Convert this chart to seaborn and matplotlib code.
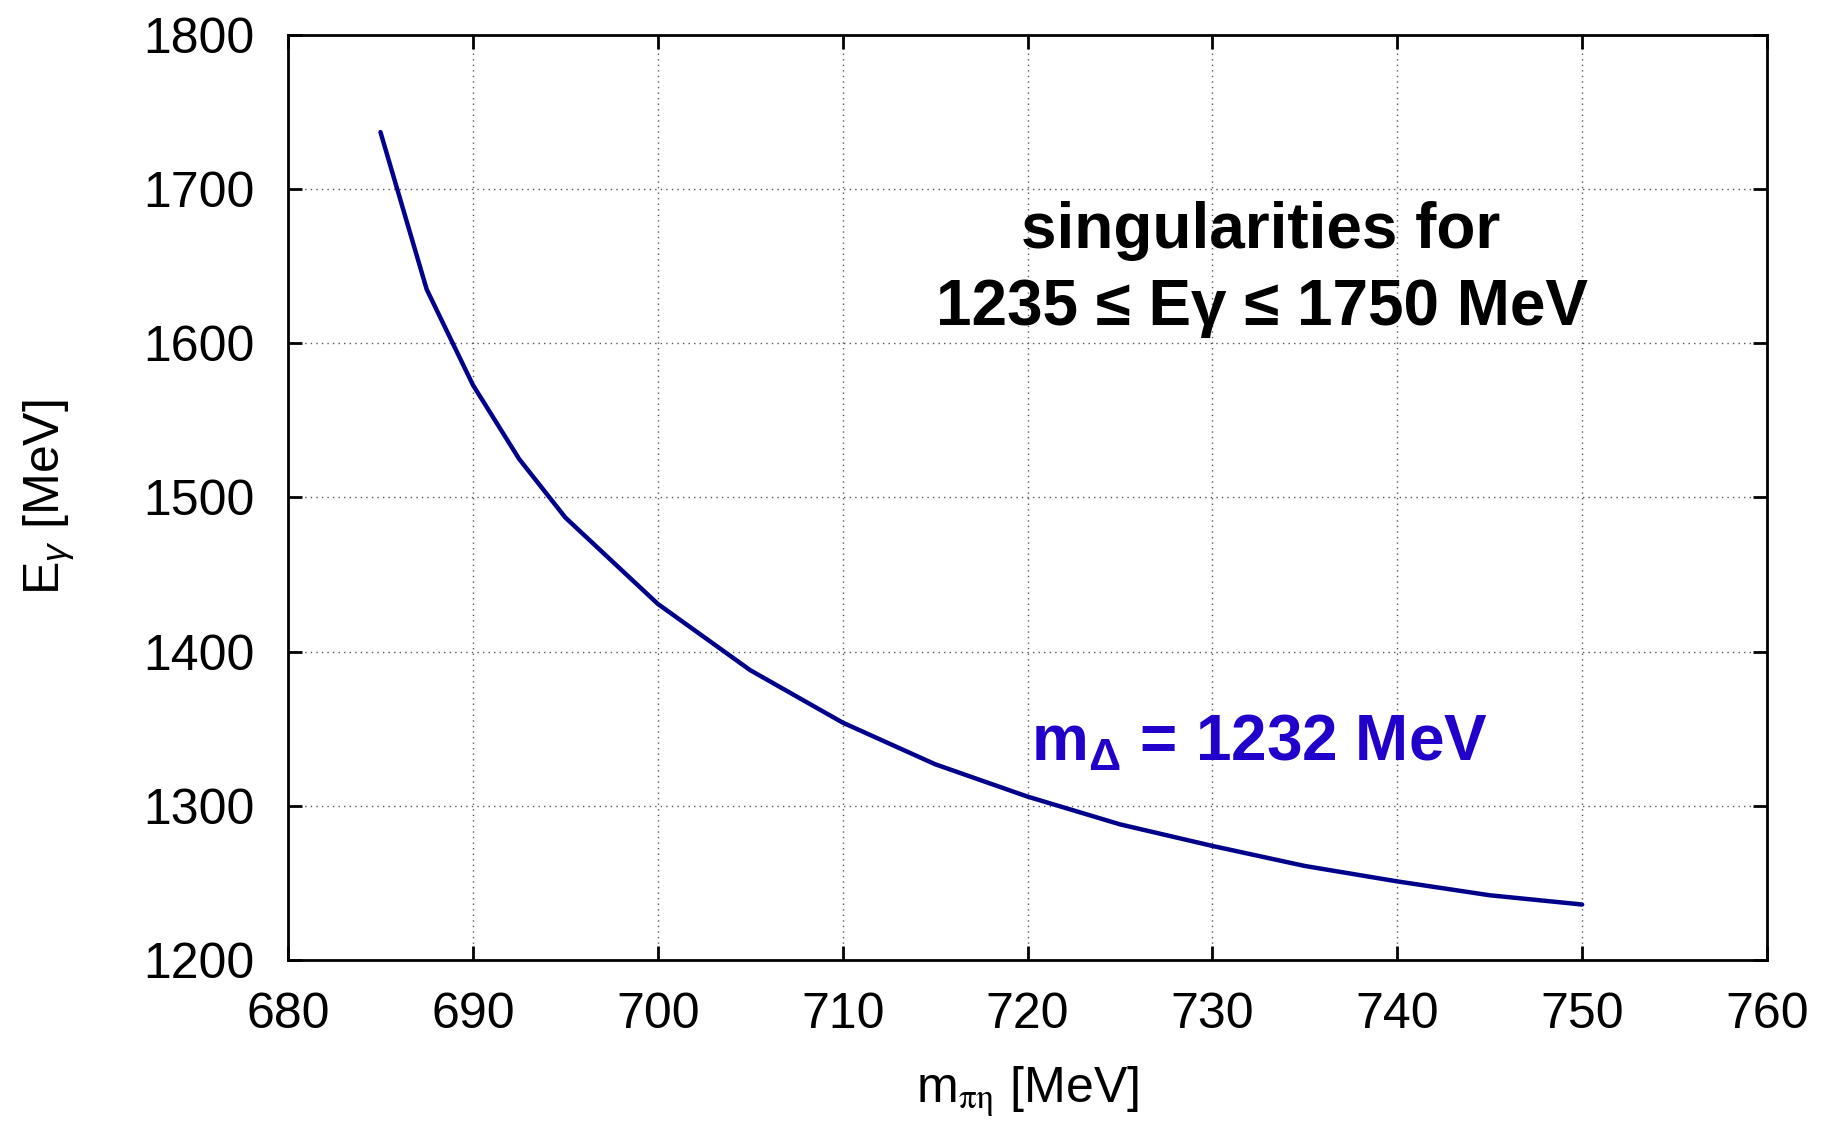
import matplotlib
matplotlib.use("Agg")
import matplotlib.pyplot as plt
import seaborn as sns
import pandas as pd

# singularity curve
m_pieta = [685, 687.5, 690, 692.5, 695, 700, 705, 710, 715, 720, 725, 730, 735, 740, 745, 750]
e_gamma = [1737, 1635, 1573, 1525, 1487, 1431, 1388, 1354, 1327, 1306, 1288, 1274, 1261, 1251, 1242, 1236]

x_ticks = [680, 690, 700, 710, 720, 730, 740, 750, 760]
y_ticks = [1200, 1300, 1400, 1500, 1600, 1700, 1800]

sns.set_style("ticks")
plt.rcParams["font.family"] = ["Liberation Sans", "DejaVu Sans"]
plt.rcParams["text.color"] = "black"
plt.rcParams["axes.labelcolor"] = "black"
plt.rcParams["mathtext.fontset"] = "custom"
plt.rcParams["mathtext.rm"] = "Liberation Sans"
plt.rcParams["mathtext.it"] = "Liberation Sans:italic"
plt.rcParams["mathtext.bf"] = "Liberation Sans:bold"

df = pd.DataFrame({"m": m_pieta, "E": e_gamma})

fig = plt.figure(figsize=(18.23, 11.21), dpi=100)
ax = fig.add_axes([0.158, 0.1436, 0.8113, 0.8252])

sns.lineplot(data=df, x="m", y="E", ax=ax, color="#00008b", linewidth=3.2)

ax.set_xlim(680, 760)
ax.set_ylim(1200, 1800)
ax.set_xticks(x_ticks)
ax.set_yticks(y_ticks)
ax.grid(True, linestyle=(0, (1, 3)), color="#555555", linewidth=1.0)
for s in ax.spines.values():
    s.set_linewidth(2)
    s.set_color("black")
ax.tick_params(direction="in", length=10, width=2, labelsize=36,
               top=True, right=True, colors="black")
ax.tick_params(axis="y", pad=24)
ax.tick_params(axis="x", pad=23)

ax.set_xlabel(r"m$_{\mathrm{\pi\eta}}$ [MeV]", fontsize=36, labelpad=19,
              math_fontfamily="stix")
ax.set_ylabel(r"E$_{\gamma}$ [MeV]", fontsize=36, labelpad=48)

ax.text(732.6, 1673, "singularities for", fontsize=46, fontweight="bold",
        ha="center", va="center")
ax.text(732.7, 1623, "1235 ≤ Eγ ≤ 1750 MeV", fontsize=46, fontweight="bold",
        ha="center", va="center")
ax.text(720.2, 1329, r"m$_{\mathbf{\Delta}}$ = 1232 MeV", fontsize=46,
        fontweight="bold", color="#2200cc", ha="left", va="baseline")

fig.savefig("out.png", dpi=100)
